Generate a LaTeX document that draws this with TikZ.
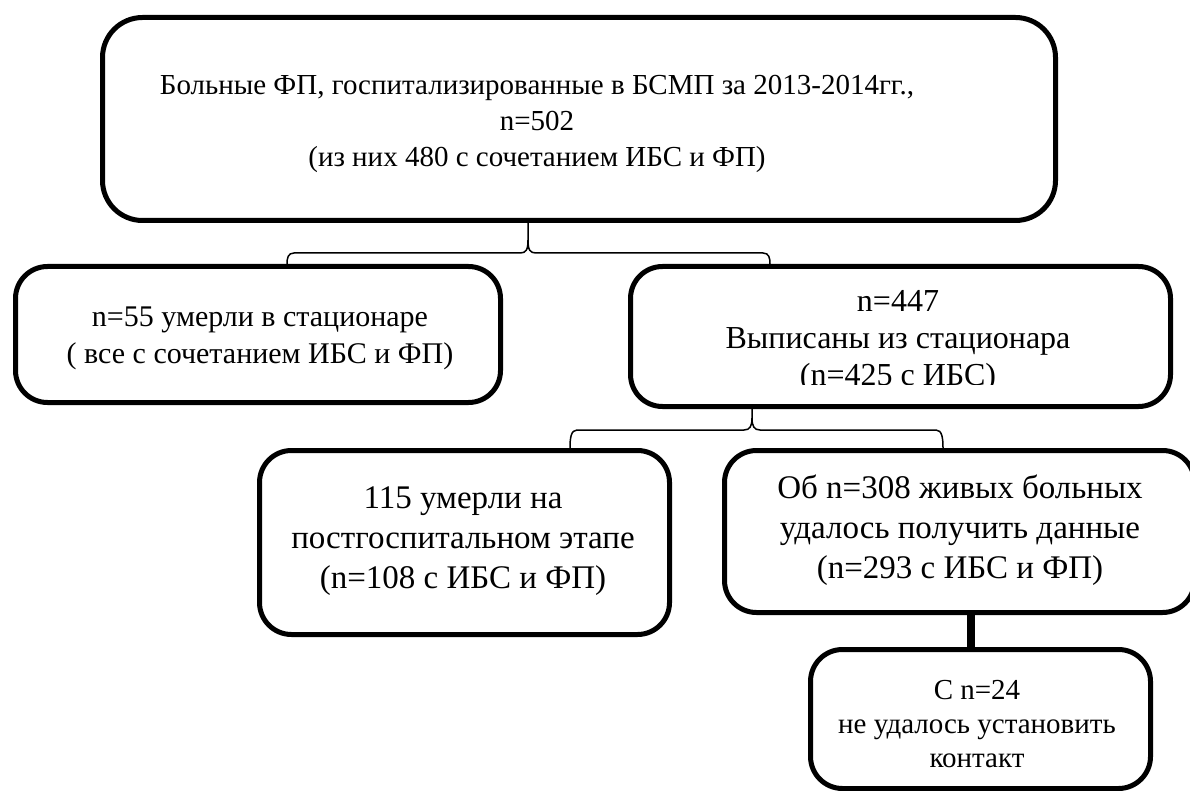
\documentclass[tikz,border=0pt]{standalone}
\usepackage{fontspec}
\setmainfont{Liberation Serif}
\begin{document}
\begin{tikzpicture}[x=1pt,y=-1pt,
  box/.style={draw, line width=5pt, rounded corners=32pt, anchor=north west, inner sep=0pt},
  txt/.style={align=center, inner sep=0pt},
  small/.style={font=\fontsize{29}{36}\selectfont},
  big/.style={font=\fontsize{33}{40}\selectfont},
  brace/.style={draw, line width=1.5pt},
  link/.style={draw, line width=8pt}]
\useasboundingbox (0,0) rectangle (1190,791);
% boxes
\node[box, rounded corners=40pt, minimum width=953pt, minimum height=203pt] (top) at (100,15) {};
\node[box, minimum width=485pt, minimum height=136pt] (dead) at (13,264) {};
\node[box, minimum width=540pt, minimum height=140pt] (out) at (628,264) {};
\node[box, minimum width=410pt, minimum height=184pt] (post) at (257,448) {};
\node[box, minimum width=470pt, minimum height=162pt] (alive) at (722,448) {};
\node[box, minimum width=340pt, minimum height=139pt] (nocont) at (808,647) {};
% texts
\node[txt, small] (ttop) at (537,124) {Больные ФП, госпитализированные в БСМП за 2013-2014гг.,\\ n=502\\ (из них 480 с сочетанием ИБС и ФП)};
\node[txt, font=\fontsize{30}{37}\selectfont] (tdead) at (260,338) {n=55 умерли в стационаре\\ ( все с сочетанием ИБС и ФП)};
\begin{scope}
\clip (628,264) rectangle (1166,384);
\node[txt, font=\fontsize{32}{37}\selectfont] (tout) at (898,341) {n=447\\ Выписаны из стационара\\ (n=425 с ИБС)};
\end{scope}
\node[txt, big] (tpost) at (463,541) {115 умерли на\\ постгоспитальном этапе\\ (n=108 с ИБС и ФП)};
\node[txt, big] (talive) at (960,530) {Об n=308 живых больных\\ удалось получить данные\\ (n=293 с ИБС и ФП)};
\node[txt, font=\fontsize{29}{34}\selectfont] (tnocont) at (977,724) {С n=24\\ не удалось установить\\ контакт};
% braces
\coordinate (b1l) at (287,264);
\coordinate (b1r) at (770,264);
\draw[brace] (b1l) .. controls (287,258) and (288,253) .. (294,253) -- (520,253)
  .. controls (526,253) and (528,250) .. (528,240) -- (top.south -| 528,0);
\draw[brace] (b1r) .. controls (770,258) and (769,253) .. (763,253) -- (536,253)
  .. controls (530,253) and (528,250) .. (528,240);
\coordinate (b2l) at (570,448);
\coordinate (b2r) at (943,448);
\draw[brace] (b2l) .. controls (570,438) and (571,430) .. (577,430) -- (744,430)
  .. controls (750,430) and (752,426) .. (752,418) -- (out.south -| 752,0);
\draw[brace] (b2r) .. controls (943,438) and (942,430) .. (936,430) -- (760,430)
  .. controls (754,430) and (752,426) .. (752,418);
% connector
\draw[link] (alive.south -| 971,0) -- (nocont.north -| 971,0);
\end{tikzpicture}
\end{document}
